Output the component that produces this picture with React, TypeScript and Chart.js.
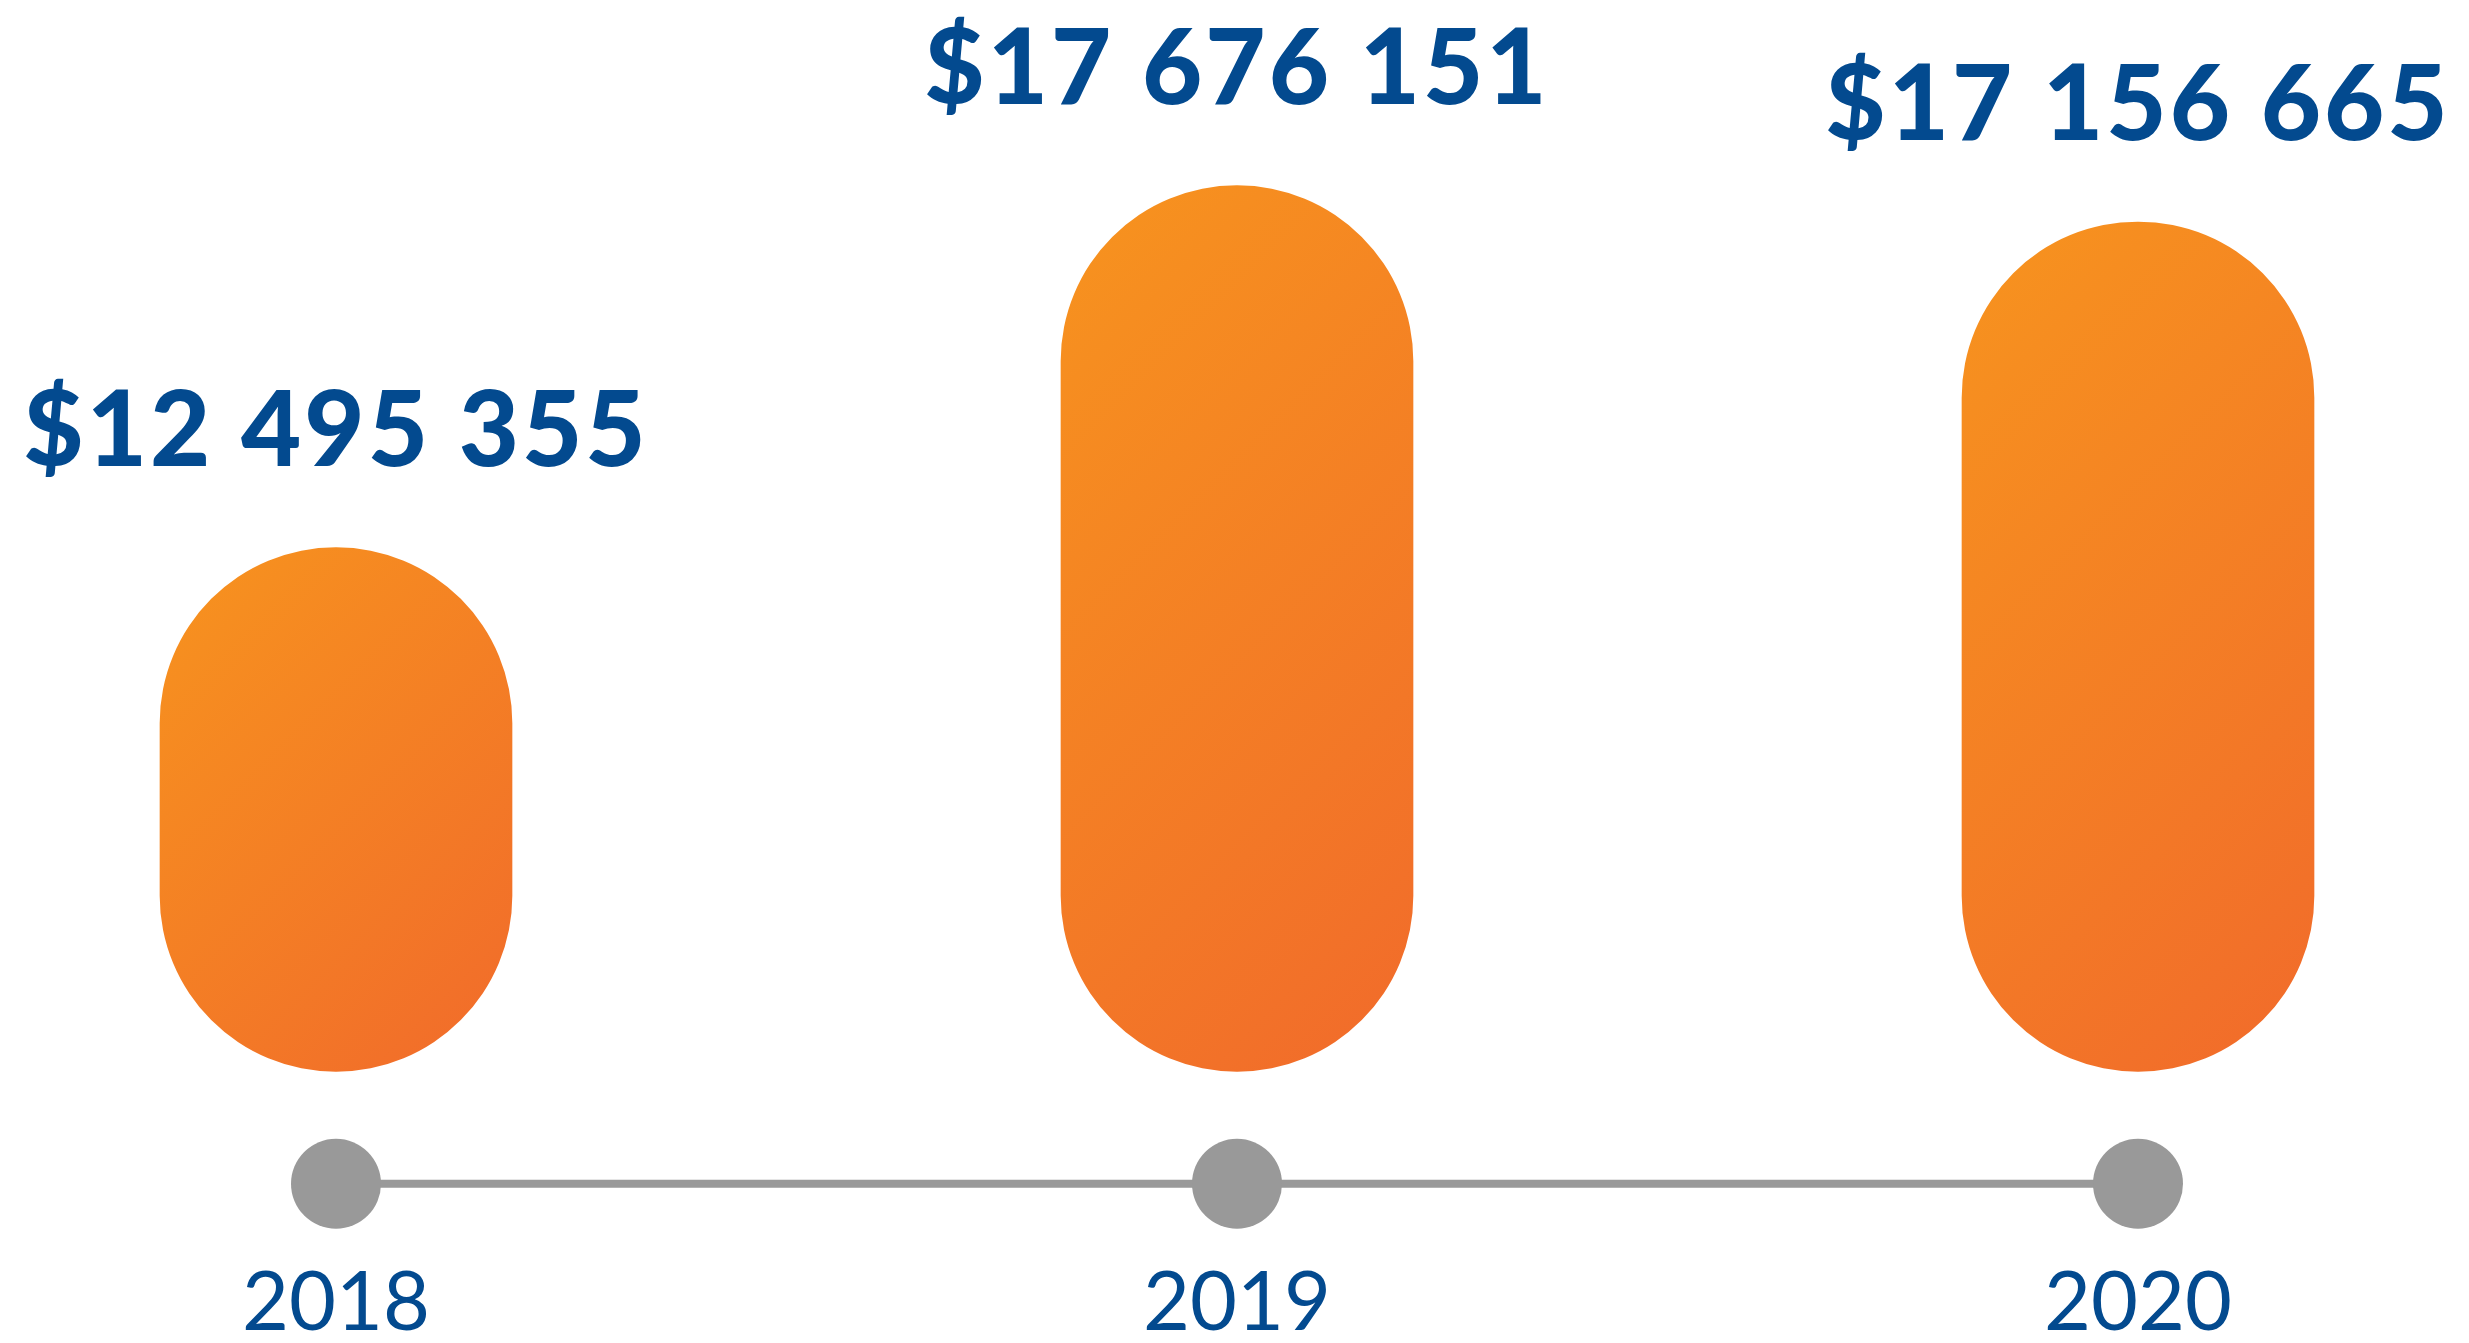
import React, { useEffect, useRef } from "react";
import { Chart, registerables } from "chart.js";

Chart.register(...registerables);

// ---- data ----
const YEARS = ["2018", "2019", "2020"];
const REVENUE = [12495355, 17676151, 17156665];
// value scale (the bars are drawn on a truncated axis, as in the reference)
const Y_MIN = 3390000;
const Y_MAX = 19690000;
const BAR_BASE = 5000000;
// timeline sits on the bottom of the value axis
const TIMELINE = [Y_MIN, Y_MIN, Y_MIN];

const BLUE = "#034A8F";
const ORANGE_LIGHT = "#F7941E";
const ORANGE_DARK = "#F16A2B";
const GREY = "#999999";
const BAR_W = 352;

const W = 2469;
const H = 1343;

function formatMoney(v: number): string {
  return "$" + String(v).replace(/\B(?=(\d{3})+(?!\d))/g, " ");
}

const valueLabels = {
  id: "valueLabels",
  afterDatasetsDraw(chart: any) {
    const meta = chart.getDatasetMeta(0);
    const ctx = chart.ctx;
    ctx.save();
    ctx.fillStyle = BLUE;
    ctx.font = "900 104px Lato";
    ctx.textAlign = "center";
    ctx.textBaseline = "alphabetic";
    try {
      (ctx as any).letterSpacing = "3px";
    } catch (e) {}
    meta.data.forEach((el: any, i: number) => {
      ctx.fillText(formatMoney(REVENUE[i]), el.x, el.y - 82);
    });
    ctx.restore();
  },
};

function barGradient(context: any) {
  const chart = context.chart;
  const xs = chart.scales?.x;
  const ys = chart.scales?.y;
  if (!chart.chartArea || !xs || !ys) return ORANGE_LIGHT;
  const i = context.dataIndex;
  const v = REVENUE[i];
  const cx = xs.getPixelForValue(i);
  const top = ys.getPixelForValue(v);
  const bottom = ys.getPixelForValue(BAR_BASE);
  const x0 = cx - BAR_W / 2;
  const span = (BAR_W + (bottom - top)) / 2;
  const g = chart.ctx.createLinearGradient(x0, top, x0 + span, top + span);
  g.addColorStop(0, ORANGE_LIGHT);
  g.addColorStop(1, ORANGE_DARK);
  return g;
}

export default function App() {
  const ref = useRef<HTMLCanvasElement | null>(null);

  useEffect(() => {
    const canvas = ref.current;
    if (!canvas) return;
    const chart = new Chart(canvas, {
      type: "bar",
      data: {
        labels: YEARS,
        datasets: [
          {
            type: "bar",
            data: REVENUE,
            base: BAR_BASE,
            barThickness: BAR_W,
            borderRadius: 2000,
            borderSkipped: false,
            borderWidth: 0,
            backgroundColor: barGradient,
            clip: false,
            order: 1,
          } as any,
          {
            type: "line",
            data: TIMELINE,
            borderColor: GREY,
            borderWidth: 8,
            pointRadius: 45,
            pointHoverRadius: 45,
            pointBackgroundColor: GREY,
            pointBorderWidth: 0,
            clip: false,
            order: 2,
          } as any,
        ],
      },
      options: {
        responsive: false,
        maintainAspectRatio: false,
        animation: false,
        events: [],
        layout: { padding: { left: 336, right: W - 2138, top: 26, bottom: -80 } },
        plugins: {
          legend: { display: false },
          tooltip: { enabled: false },
        },
        scales: {
          x: {
            type: "category",
            offset: false,
            grid: { display: false, drawTicks: false },
            border: { display: false },
            ticks: {
              color: BLUE,
              font: { family: "Lato", size: 81, weight: "400" },
              padding: 71,
              maxRotation: 0,
              autoSkip: false,
            },
          },
          y: {
            display: false,
            min: Y_MIN,
            max: Y_MAX,
          },
        },
      },
      plugins: [valueLabels],
    } as any);
    return () => chart.destroy();
  }, []);

  return (
    <div style={{ position: "fixed", left: 0, top: 0, width: W, height: H, background: "#ffffff" }}>
      <canvas ref={ref} width={W} height={H} style={{ display: "block", width: W, height: H }} />
    </div>
  );
}
